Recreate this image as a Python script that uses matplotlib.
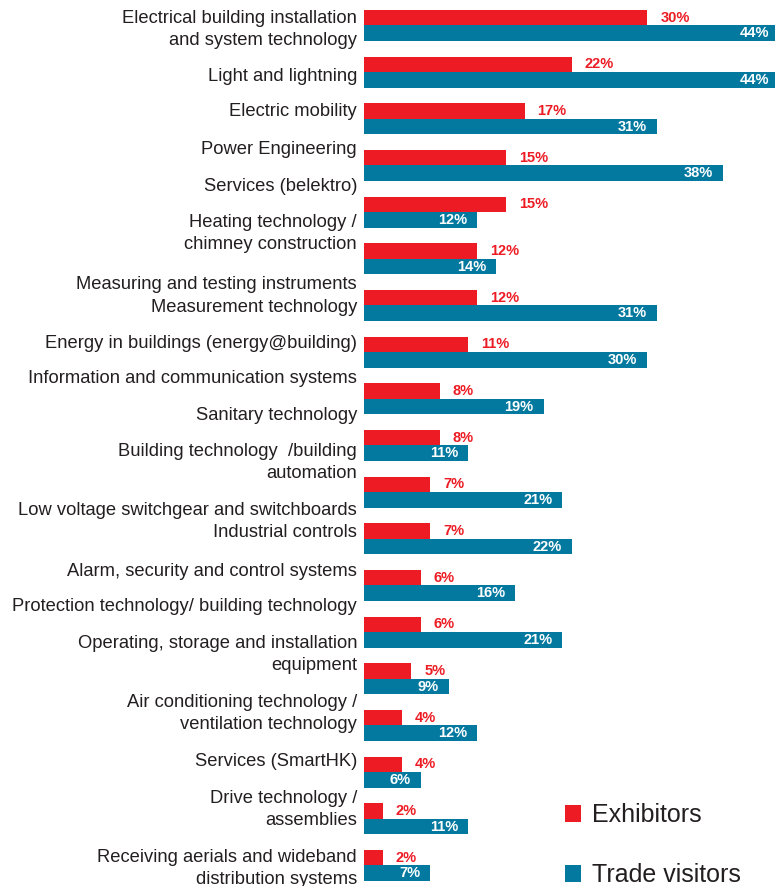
import matplotlib.pyplot as plt

plt.rcParams['font.family'] = ['Liberation Sans', 'DejaVu Sans']

# values per bar pair (percent)
exhibitors = [30, 22, 17, 15, 15, 12, 12, 11, 8, 8, 7, 7, 6, 6, 5, 4, 4, 2, 2]
visitors = [44, 44, 31, 38, 12, 14, 31, 30, 19, 11, 21, 22, 16, 21, 9, 12, 6, 11, 7]

# category labels as printed on the left side
labels = [
    "Electrical building installation\nand system technology",
    "Light and lightning",
    "Electric mobility",
    "Power Engineering",
    "Services (belektro)",
    "Heating technology /\nchimney construction",
    "Measuring and testing instruments",
    "Measurement technology",
    "Energy in buildings (energy@building)",
    "Information and communication systems",
    "Sanitary technology",
    "Building technology  /building\nautomation",
    "Low voltage switchgear and switchboards",
    "Industrial controls",
    "Alarm, security and control systems",
    "Protection technology/ building technology",
    "Operating, storage and installation\nequipment",
    "Air conditioning technology /\nventilation technology",
    "Services (SmartHK)",
    "Drive technology /\nassemblies",
    "Receiving aerials and wideband\ndistribution systems",
]
# where the labels sit, in bar-pair units (they do not line up with the bars)
label_pos = [0.04, 1.04, 1.81, 2.62, 3.40, 4.42, 5.50, 5.99, 6.78, 7.53, 8.32,
             9.32, 10.34, 10.83, 11.65, 12.40, 13.43, 14.70, 15.72, 16.76, 18.03]

red = "#ED1C24"
blue = "#03799F"
text_col = "#231F20"

fig = plt.figure(figsize=(7.75, 8.86), dpi=100)
ax = fig.add_axes([364 / 775, 0, 411 / 775, 1])

n = len(exhibitors)
ys = list(range(n))
h = 0.332
ax.barh([y - h / 2 for y in ys], exhibitors, height=h, color=red, label="Exhibitors")
ax.barh([y + h / 2 for y in ys], visitors, height=h, color=blue, label="Trade visitors")

# value labels: red ones after the bar, white ones inside the bar end
for y, v in zip(ys, exhibitors):
    ax.annotate(f"{v}%", (v, y - h / 2), xytext=(13, 0), textcoords="offset pixels",
                ha="left", va="center", color=red, fontsize=10.5, fontweight="bold",
                annotation_clip=False)
for y, v in zip(ys, visitors):
    ax.annotate(f"{v}%", (v, y + h / 2), xytext=(-10, 0), textcoords="offset pixels",
                ha="right", va="center", color="white", fontsize=10.5, fontweight="bold",
                annotation_clip=False)

# category labels
for lab, p in zip(labels, label_pos):
    ax.annotate(lab, (0, p), xytext=(-7, -2), textcoords="offset pixels",
                ha="right", va="center", multialignment="right", color=text_col,
                fontsize=13.2, linespacing=1.4, annotation_clip=False)

ax.set_xlim(0, 43.5)
ax.set_ylim(18.44, -0.546)
ax.axis("off")

fig.legend(loc="lower left", bbox_to_anchor=(552 / 775, -14 / 886), frameon=False,
           fontsize=18, handlelength=0.65, handleheight=0.65, handletextpad=0.45,
           labelspacing=1.45, borderpad=0.0, labelcolor=text_col)

fig.savefig("out.png", dpi=100)
